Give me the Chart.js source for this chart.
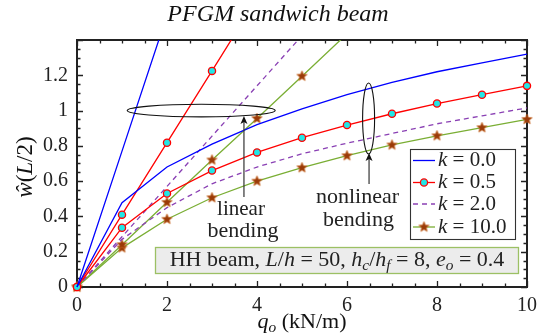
<!DOCTYPE html>
<html>
<head>
<meta charset="utf-8">
<script src="https://cdn.jsdelivr.net/npm/chart.js@4"></script>
<style>
  html, body { margin: 0; padding: 0; background: #fff; }
  #wrap { width: 554px; height: 336px; }
</style>
</head>
<body>
<div id="wrap"><canvas id="board" width="554" height="336"></canvas></div>
<script>
// load values q_o (kN/m)
const loads = [0, 1, 2, 3, 4, 5, 6, 7, 8, 9, 10];

// linear bending (straight lines, run past the top and get clipped)
const linK00 = [0, 0.77, 1.54];
const linK05 = [0, 0.41, 0.818, 1.225, 1.635];
const linK20 = [0, 0.285, 0.57, 0.855, 1.14, 1.425];
const linK10 = [0, 0.24, 0.48, 0.72, 0.955, 1.195, 1.435];

// nonlinear bending
const nlK00 = [0, 0.478, 0.68, 0.81, 0.92, 1.01, 1.09, 1.16, 1.22, 1.27, 1.32];
const nlK05 = [0, 0.336, 0.53, 0.66, 0.763, 0.846, 0.918, 0.982, 1.04, 1.09, 1.14];
const nlK20 = [0, 0.27, 0.45, 0.585, 0.68, 0.755, 0.815, 0.87, 0.925, 0.97, 1.015];
const nlK10 = [0, 0.222, 0.384, 0.506, 0.60, 0.676, 0.744, 0.805, 0.857, 0.903, 0.95];

const legendLabels = ["k = 0.0", "k = 0.5", "k = 2.0", "k = 10.0"];
const xTicks = [0, 2, 4, 6, 8, 10];

const FONT = "'Liberation Serif', 'DejaVu Serif', serif";
const BLUE = "#0000ff", RED = "#ff0000", PURPLE = "#8a40b4", GREEN = "#7aae34";
const CYAN = "#22e6e6", BROWN = "#9a3a08";

function pts(vals) {
    return vals.map((v, i) => ({ x: loads[i], y: v }));
}

// filled five point star used as marker
function makeStar(r) {
    const s = Math.ceil(r * 2 + 2);
    const c = document.createElement("canvas");
    c.width = s; c.height = s;
    const g = c.getContext("2d");
    g.beginPath();
    for (let i = 0; i < 10; i++) {
        const rad = i % 2 == 0 ? r : r * 0.45;
        const a = -Math.PI / 2 + i * Math.PI / 5;
        const px = s / 2 + rad * Math.cos(a), py = s / 2 + rad * Math.sin(a);
        if (i == 0) g.moveTo(px, py); else g.lineTo(px, py);
    }
    g.closePath();
    g.fillStyle = BROWN;
    g.fill();
    g.lineWidth = 0.6;
    g.strokeStyle = "#d0702a";
    g.stroke();
    return c;
}
const star = makeStar(5.5);

function line(vals, color, extra) {
    return Object.assign({
        data: pts(vals),
        borderColor: color,
        backgroundColor: color,
        borderWidth: 1.3,
        pointRadius: 0,
        tension: 0,
        clip: { left: 10, right: 10, top: 0, bottom: 10 }
    }, extra);
}
const circ = { pointStyle: "circle", pointRadius: 3.6, pointBackgroundColor: CYAN, pointBorderColor: RED, pointBorderWidth: 1.3 };
const stars = { pointStyle: star, pointRadius: 6 };
const dash = { borderDash: [5, 4] };

// draw a run of text where parts may be italic or subscript
function drawRich(ctx, parts, x, y, size, align) {
    const fontOf = p => (p.it ? "italic " : "") + (p.sub ? size * 0.7 : size) + "px " + FONT;
    let w = 0;
    parts.forEach(p => { ctx.font = fontOf(p); w += ctx.measureText(p.t).width; });
    let cx = align == "left" ? x : x - w / 2;
    ctx.textBaseline = "middle";
    ctx.textAlign = "left";
    parts.forEach(p => {
        ctx.font = fontOf(p);
        ctx.fillText(p.t, cx, p.sub ? y + size * 0.25 : y);
        cx += ctx.measureText(p.t).width;
    });
}

function arrow(ctx, x, y1, y2) {
    ctx.strokeStyle = "#333"; ctx.fillStyle = "#111"; ctx.lineWidth = 1.2;
    ctx.beginPath(); ctx.moveTo(x, y1); ctx.lineTo(x, y2 + 5); ctx.stroke();
    ctx.beginPath(); ctx.moveTo(x, y2); ctx.lineTo(x - 3.5, y2 + 8); ctx.lineTo(x, y2 + 6); ctx.lineTo(x + 3.5, y2 + 8);
    ctx.closePath(); ctx.fill();
}

const frame = {
    id: "frame",
    beforeDatasetsDraw(chart) {
        const { ctx, chartArea: a, scales } = chart;
        ctx.save();
        ctx.strokeStyle = "#222";
        ctx.lineWidth = 1.3;
        // x ticks: major every 2, minor every 0.5
        for (let q = 0; q <= 10.001; q += 0.5) {
            const px = Math.round(scales.x.getPixelForValue(q)) + 0.5;
            const len = Math.abs(q % 2) < 1e-6 ? 6 : 3.5;
            ctx.beginPath();
            ctx.moveTo(px, a.bottom); ctx.lineTo(px, a.bottom - len);
            ctx.moveTo(px, a.top); ctx.lineTo(px, a.top + len);
            ctx.stroke();
        }
        // y ticks: major every 0.2, minor every 0.05
        for (let i = 0; i <= 28; i++) {
            const w = i * 0.05;
            const py = Math.round(scales.y.getPixelForValue(w)) + 0.5;
            const len = i % 4 == 0 ? 6 : 3.5;
            ctx.beginPath();
            ctx.moveTo(a.left, py); ctx.lineTo(a.left + len, py);
            ctx.moveTo(a.right, py); ctx.lineTo(a.right - len, py);
            ctx.stroke();
        }
        ctx.lineWidth = 2;
        ctx.strokeRect(a.left, a.top, a.right - a.left, a.bottom - a.top);
        ctx.restore();
    },
    afterDatasetsDraw(chart) {
        const { ctx, scales } = chart;
        const X = v => scales.x.getPixelForValue(v), Y = v => scales.y.getPixelForValue(v);
        ctx.save();
        ctx.fillStyle = "#222";

        // ellipses marking the two groups
        ctx.strokeStyle = "#111"; ctx.lineWidth = 1.1;
        ctx.beginPath(); ctx.ellipse(X(2.76), Y(1.0), 74, 6.3, 0, 0, Math.PI * 2); ctx.stroke();
        ctx.beginPath(); ctx.ellipse(X(6.48), Y(0.955), 6, 35.5, 0, 0, Math.PI * 2); ctx.stroke();
        arrow(ctx, X(3.71), 197, 116);
        arrow(ctx, X(6.49), 184, 153);

        ctx.fillStyle = "#222";
        drawRich(ctx, [{ t: "linear" }], 241, 209, 21);
        drawRich(ctx, [{ t: "bending" }], 243, 231, 22);
        drawRich(ctx, [{ t: "nonlinear" }], 357.5, 197, 22);
        drawRich(ctx, [{ t: "bending" }], 358.5, 220, 22);

        // info box
        ctx.fillStyle = "#ececec";
        ctx.fillRect(155, 247, 363, 26);
        ctx.strokeStyle = "#9cc064"; ctx.lineWidth = 1.3;
        ctx.strokeRect(155.5, 247.5, 363, 26);
        ctx.fillStyle = "#222";
        drawRich(ctx, [
            { t: "HH beam, " }, { t: "L", it: true }, { t: "/" }, { t: "h", it: true }, { t: " = 50, " },
            { t: "h", it: true }, { t: "c", it: true, sub: true }, { t: "/" }, { t: "h", it: true }, { t: "f", it: true, sub: true },
            { t: " = 8, " }, { t: "e", it: true }, { t: "o", it: true, sub: true }, { t: " = 0.4" }
        ], 337, 260, 22);

        // legend
        ctx.fillStyle = "#fff";
        ctx.fillRect(410, 149, 105, 90);
        ctx.strokeStyle = "#333"; ctx.lineWidth = 1.1;
        ctx.strokeRect(410.5, 149.5, 105, 90);
        const rows = [160.5, 182.5, 204, 227];
        const cols = [BLUE, RED, PURPLE, GREEN];
        rows.forEach((ry, i) => {
            ctx.strokeStyle = cols[i]; ctx.lineWidth = 1.3;
            ctx.setLineDash(i == 2 ? [5, 4] : []);
            ctx.beginPath(); ctx.moveTo(413, ry); ctx.lineTo(435, ry); ctx.stroke();
            ctx.setLineDash([]);
            if (i == 1) {
                ctx.beginPath(); ctx.arc(424, ry, 3.6, 0, Math.PI * 2);
                ctx.fillStyle = CYAN; ctx.fill(); ctx.strokeStyle = RED; ctx.stroke();
            }
            if (i == 3) ctx.drawImage(star, 424 - star.width / 2, ry - star.height / 2);
            ctx.fillStyle = "#222";
            const lab = legendLabels[i];
            drawRich(ctx, [{ t: lab[0], it: true }, { t: lab.slice(1) }], 438, ry, 21, "left");
        });

        // titles
        ctx.fillStyle = "#111";
        drawRich(ctx, [{ t: "PFGM sandwich beam", it: true }], 278, 15, 24);
        drawRich(ctx, [{ t: "q", it: true }, { t: "o", it: true, sub: true }, { t: " (kN/m)" }], 302, 322, 22);
        ctx.translate(26, 167);
        ctx.rotate(-Math.PI / 2);
        drawRich(ctx, [{ t: "ŵ", it: true }, { t: "(" }, { t: "L", it: true }, { t: "/2)" }], 0, 0, 23);
        ctx.restore();
    }
};

new Chart(document.getElementById("board").getContext("2d"), {
    type: "line",
    data: {
        datasets: [
            line(linK00, BLUE),
            line(nlK00, BLUE),
            line(linK05, RED, circ),
            line(nlK05, RED, circ),
            line(linK20, PURPLE, dash),
            line(nlK20, PURPLE, dash),
            line(linK10, GREEN, stars),
            line(nlK10, GREEN, stars)
        ]
    },
    options: {
        responsive: false,
        animation: false,
        layout: { padding: { top: 40, right: 27, left: 0, bottom: 0 } },
        plugins: { legend: { display: false }, tooltip: { enabled: false } },
        scales: {
            x: {
                type: "linear", min: 0, max: 10,
                afterFit: s => { s.height = 49; },
                afterBuildTicks: s => { s.ticks = xTicks.map(v => ({ value: v })); },
                grid: { display: false }, border: { display: false },
                ticks: { color: "#222", padding: -1, font: { family: FONT, size: 20 } }
            },
            y: {
                type: "linear", min: 0, max: 1.4,
                afterFit: s => { s.width = 77; },
                grid: { display: false }, border: { display: false },
                ticks: {
                    stepSize: 0.2, color: "#222", padding: 1, font: { family: FONT, size: 20 },
                    callback: v => (v > 1.3 ? "" : String(Math.round(v * 10) / 10))
                }
            }
        }
    },
    plugins: [frame]
});
</script>
</body>
</html>
